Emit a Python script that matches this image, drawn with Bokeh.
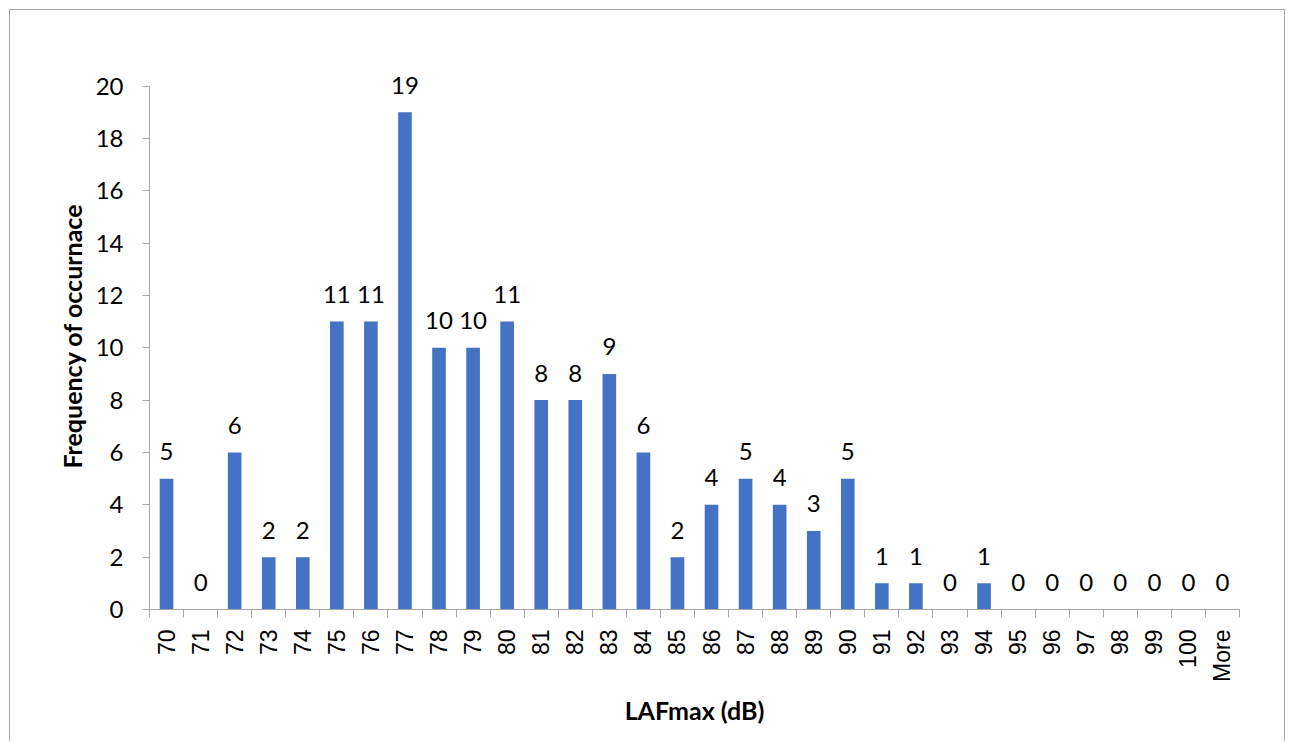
from bokeh.plotting import figure
from bokeh.models import Range1d, FixedTicker, ColumnDataSource
from bokeh.core.properties import value
from bokeh.embed import file_html
from bokeh.resources import INLINE

# Histogram bins (dB) and counts per bin
bins = ["70", "71", "72", "73", "74", "75", "76", "77", "78", "79", "80",
        "81", "82", "83", "84", "85", "86", "87", "88", "89", "90", "91",
        "92", "93", "94", "95", "96", "97", "98", "99", "100", "More"]
counts = [5, 0, 6, 2, 2, 11, 11, 19, 10, 10, 11, 8, 8, 9, 6, 2, 4, 5, 4, 3,
          5, 1, 1, 0, 1, 0, 0, 0, 0, 0, 0, 0]
y_ticks = [0, 2, 4, 6, 8, 10, 12, 14, 16, 18, 20]

BAR = "#4472C4"
AXIS = "#a6a6a6"
TXT = "#000000"

n = len(bins)
centers = [i + 0.5 for i in range(n)]
edges = list(range(n + 1))

src = ColumnDataSource(dict(x=centers, top=counts, label=[str(c) for c in counts]))

# y range runs a little past 20 so the tallest value label has room;
# the axis line itself stops at 20
p = figure(width=1276, height=732, output_backend="svg", toolbar_location=None,
           x_range=Range1d(0, n), y_range=Range1d(0, 20.9),
           min_border_left=139, min_border_right=47,
           min_border_top=52, min_border_bottom=133)
p.styles = {"margin-left": "9px", "margin-top": "9px",
            "border-left": "1px solid #a6a6a6", "border-top": "1px solid #a6a6a6",
            "border-right": "1px solid #a6a6a6"}
p.outline_line_color = None
p.grid.visible = False

p.vbar(x="x", top="top", width=0.4, bottom=0, source=src,
       fill_color=BAR, line_color=None)

# value labels above each bar
p.text(x="x", y="top", text="label", source=src, text_align="center",
       text_baseline="alphabetic", y_offset=-27,
       text_font=value("Lato"), text_font_size="24px", text_color=TXT)

# x axis: labels under bar centres, ticks on bin boundaries
xa = p.xaxis[0]
xa.ticker = FixedTicker(ticks=centers, minor_ticks=edges)
xa.major_label_overrides = {c: b for c, b in zip(centers, bins)}
xa.major_label_orientation = 1.5707963
xa.major_tick_out = 0
xa.major_tick_in = 0
xa.minor_tick_out = 8
xa.minor_tick_in = 0
xa.minor_tick_line_color = AXIS
xa.axis_line_color = AXIS
xa.major_label_standoff = 12
xa.major_label_text_font = "Liberation Sans"
xa.major_label_text_font_size = "23px"
xa.major_label_text_color = TXT
xa.axis_label = "LAFmax (dB)"
xa.axis_label_text_font = "Lato"
xa.axis_label_text_font_style = "bold"
xa.axis_label_text_font_size = "25px"
xa.axis_label_text_color = TXT
xa.axis_label_standoff = 10

ya = p.yaxis[0]
ya.ticker = FixedTicker(ticks=y_ticks)
ya.bounds = (0, 20)
ya.minor_tick_line_color = None
ya.major_tick_out = 7
ya.major_tick_in = 0
ya.major_tick_line_color = AXIS
ya.axis_line_color = AXIS
ya.major_label_standoff = 19
ya.major_label_text_font = "Lato"
ya.major_label_text_font_size = "24px"
ya.major_label_text_color = TXT
ya.axis_label = "Frequency of occurnace"
ya.axis_label_text_font = "Lato"
ya.axis_label_text_font_style = "bold"
ya.axis_label_text_font_size = "25px"
ya.axis_label_text_color = TXT
ya.axis_label_standoff = 6

open("out.html", "w").write(file_html(p, INLINE))
